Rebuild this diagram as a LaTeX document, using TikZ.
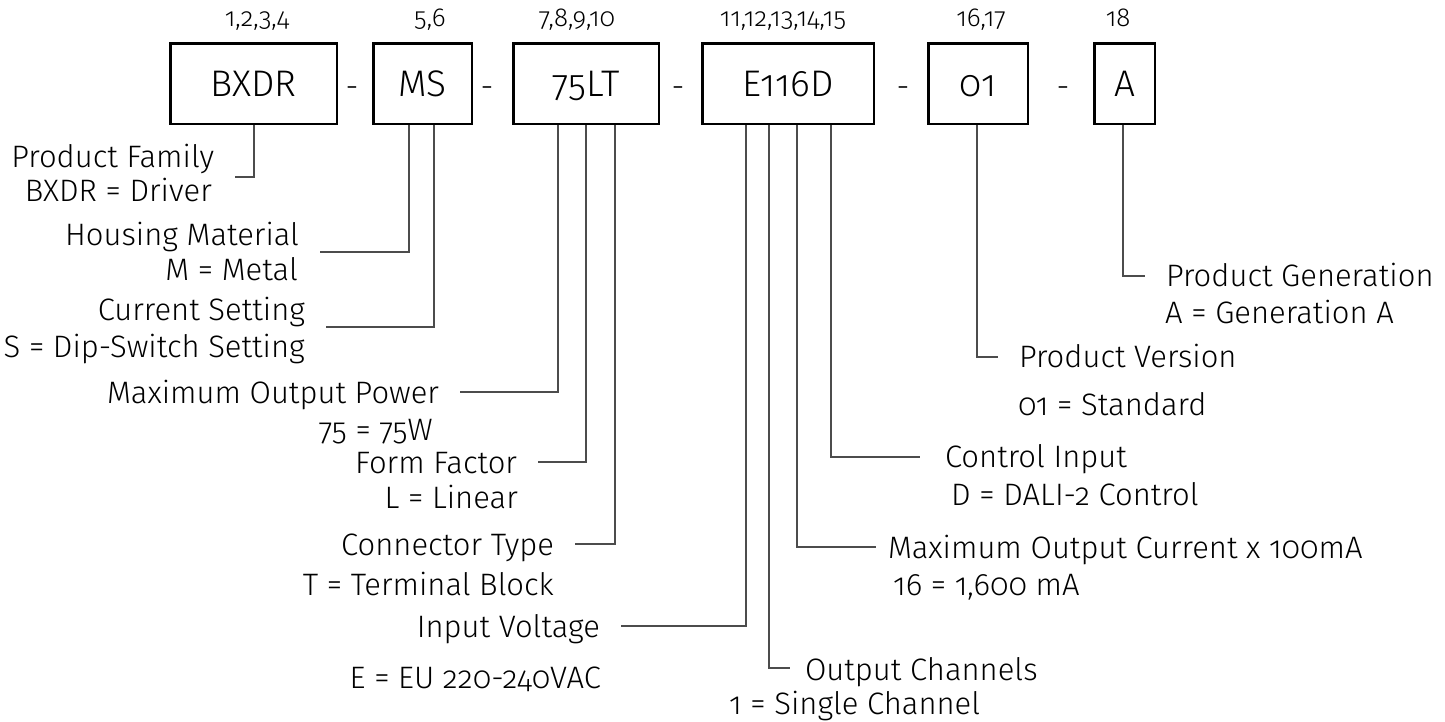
\documentclass[tikz,border=0pt]{standalone}
\usepackage{fontspec}
\setmainfont{Fira Sans Light}[Numbers=OldStyle]
\usepackage{tikz}

\begin{document}
\begin{tikzpicture}[x=1pt, y=-1pt,
  caja/.style={draw, line width=2.5pt, inner sep=0pt, minimum height=80.5pt,
    text height=53.5pt, text depth=27pt, font=\fontsize{37}{37}\selectfont},
  posic/.style={anchor=base, inner sep=0pt, font=\fontsize{26}{26}\selectfont},
  guion/.style={anchor=base, inner sep=0pt, font=\fontsize{32}{32}\selectfont},
  titulo/.style={inner sep=0pt, outer xsep=21pt, font=\fontsize{31}{31}\selectfont},
  valor/.style={inner sep=0pt, font=\fontsize{31}{31}\selectfont},
  linea/.style={draw=black!70, line width=1.3pt}]
  \useasboundingbox (0,0) rectangle (1445,721);

  % Cajas
  \node[caja, minimum width=166.5pt] (bxdr) at (253.5,83.5) {BXDR};
  \node[caja, minimum width=98.5pt] (ms) at (422.5,83.5) {MS};
  \node[caja, minimum width=145.5pt] (lt) at (586,83.5) {75LT};
  \node[caja, minimum width=171.5pt] (e) at (788,83.5) {E116D};
  \node[caja, minimum width=99.5pt] (v) at (978,83.5) {01};
  \node[caja, minimum width=60.5pt] (a) at (1124.5,83.5) {A};

  % Guiones
  \node[guion] (g1) at (352,97) {-};
  \node[guion] (g2) at (487,97) {-};
  \node[guion] (g3) at (678,97) {-};
  \node[guion] (g4) at (903,97) {-};
  \node[guion] (g5) at (1063,97) {-};

  % Posiciones
  \node[posic] (p1) at (257,26) {1,2,3,4};
  \node[posic] (p2) at (430,26) {5,6};
  \node[posic] (p3) at (577,26) {7,8,9,10};
  \node[posic] (p4) at (783,26) {11,12,13,14,15};
  \node[posic] (p5) at (981,26) {16,17};
  \node[posic] (p6) at (1118,26) {18};

  % Textos izquierda
  \node[titulo, anchor=base east] (pf) at (235,167) {Product Family};
  \node[valor, anchor=base east] (pfv) at (212,201) {BXDR = Driver};
  \node[titulo, anchor=base east] (hm) at (320,245) {Housing Material};
  \node[valor, anchor=base east] (hmv) at (298,280) {M = Metal};
  \node[titulo, anchor=base east] (cs) at (326,320) {Current Setting};
  \node[valor, anchor=base east] (csv) at (305,357) {S = Dip-Switch Setting};
  \node[titulo, anchor=base east] (mop) at (460,403) {Maximum Output Power};
  \node[valor, anchor=base east] (mopv) at (433,440) {75 = 75W};
  \node[titulo, anchor=base east] (ff) at (538,473) {Form Factor};
  \node[valor, anchor=base east] (ffv) at (518,508) {L = Linear};
  \node[titulo, anchor=base east] (ct) at (575,555) {Connector Type};
  \node[valor, anchor=base east] (ctv) at (554,595) {T = Terminal Block};
  \node[titulo, anchor=base east] (iv) at (621,637) {Input Voltage};
  \node[valor, anchor=base east] (ivv) at (601,688) {E = EU 220-240VAC};

  % Textos derecha
  \node[titulo, anchor=base west, outer xsep=15pt] (oc) at (790,680) {Output Channels};
  \node[valor, anchor=base west] (ocv) at (729,714) {1 = Single Channel};
  \node[titulo, anchor=base west, outer xsep=12pt] (moc) at (876,558) {Maximum Output Current x 100mA};
  \node[valor, anchor=base west] (mocv) at (893,595) {16 = 1,600 mA};
  \node[titulo, anchor=base west, outer xsep=25pt] (ci) at (920,467) {Control Input};
  \node[valor, anchor=base west] (civ) at (951,505) {D = DALI-2 Control};
  \node[titulo, anchor=base west] (pv) at (998,367) {Product Version};
  \node[valor, anchor=base west] (pvv) at (1018,415) {01 = Standard};
  \node[titulo, anchor=base west] (pg) at (1145,286) {Product Generation};
  \node[valor, anchor=base west] (pgv) at (1165,323) {A = Generation A};

  % Esquinas
  \coordinate (k1) at (254,177);
  \coordinate (k2) at (409,252);
  \coordinate (k3) at (434,327);
  \coordinate (k4) at (558,392);
  \coordinate (k5) at (586,462);
  \coordinate (k6) at (615,544);
  \coordinate (k7) at (746,626);
  \coordinate (k8) at (769,668);
  \coordinate (k9) at (797,547);
  \coordinate (k10) at (831,457);
  \coordinate (k11) at (977,357);
  \coordinate (k12) at (1123,276);

  % Lineas
  \draw[linea] (bxdr.south -| k1) -- (k1) -- (k1 -| pf.east);
  \draw[linea] (ms.south -| k2) -- (k2) -- (k2 -| hm.east);
  \draw[linea] (ms.south -| k3) -- (k3) -- (k3 -| cs.east);
  \draw[linea] (lt.south -| k4) -- (k4) -- (k4 -| mop.east);
  \draw[linea] (lt.south -| k5) -- (k5) -- (k5 -| ff.east);
  \draw[linea] (lt.south -| k6) -- (k6) -- (k6 -| ct.east);
  \draw[linea] (e.south -| k7) -- (k7) -- (k7 -| iv.east);
  \draw[linea] (e.south -| k8) -- (k8) -- (k8 -| oc.west);
  \draw[linea] (e.south -| k9) -- (k9) -- (k9 -| moc.west);
  \draw[linea] (e.south -| k10) -- (k10) -- (k10 -| ci.west);
  \draw[linea] (v.south -| k11) -- (k11) -- (k11 -| pv.west);
  \draw[linea] (a.south -| k12) -- (k12) -- (k12 -| pg.west);
\end{tikzpicture}
\end{document}
